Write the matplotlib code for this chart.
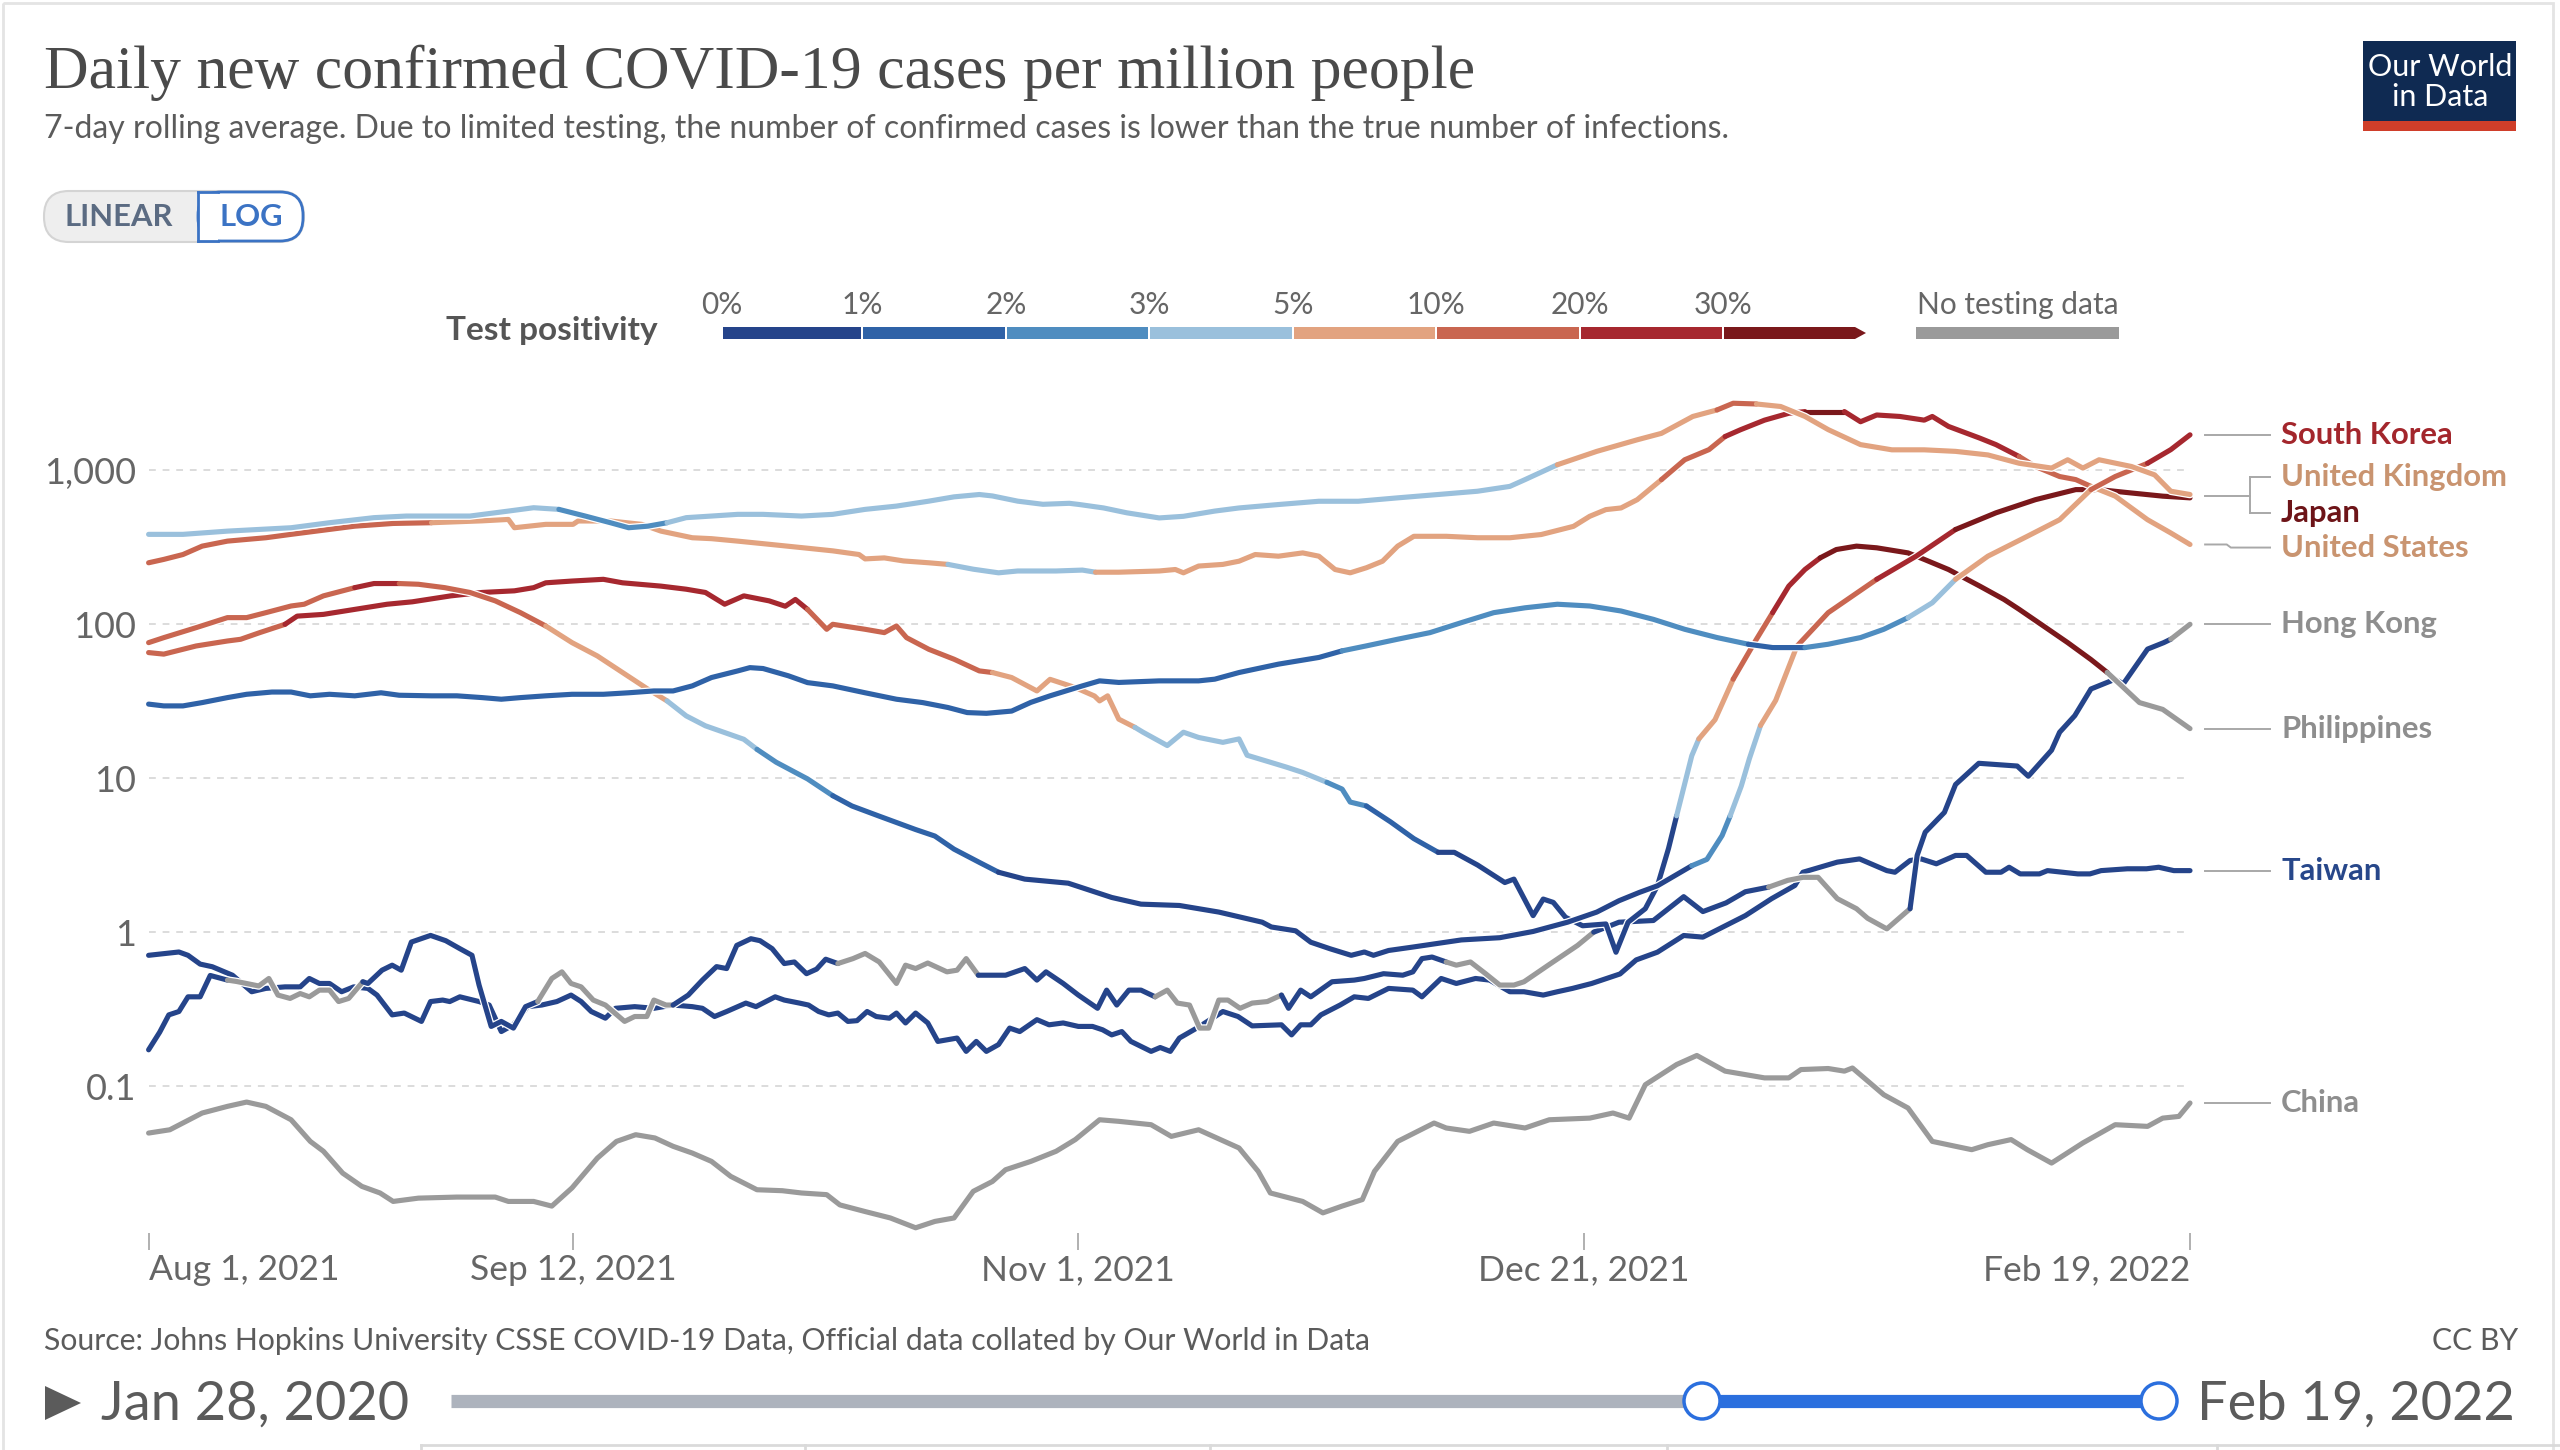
import matplotlib
matplotlib.use("Agg")
import matplotlib.pyplot as plt
import matplotlib.dates as mdates
import matplotlib.transforms as mtransforms
from matplotlib.patches import FancyBboxPatch, Rectangle, Polygon, Circle
from matplotlib.ticker import NullLocator
from datetime import datetime
import numpy as np

plt.rcParams['font.family'] = ['Lato', 'DejaVu Sans']

# days counted from Aug 1, 2021 ; values = daily new cases per million (7-day avg)
start_date = datetime(2021, 8, 1)

sk_days = [0, 1.5, 3.4, 5.3, 7.8, 9.7, 12.2, 14.1, 16, 17.9, 20.4, 23, 24.8, 28, 30.5, 33, 34.9, 36.8,
           39.3, 41.9, 45, 47.5, 50, 51.9, 53.8, 55.7, 58.3, 59.5, 60.8, 63.3, 65.2, 67.7, 70.9, 74,
           76.6, 79.1, 81, 82.9, 85.4, 87.3, 89.2, 92.4, 94.1, 96, 100, 103.9, 105.5, 107.9, 111.8,
           115.8, 118.1, 120.5, 123.6, 126.8, 129.9, 133.1, 136.2, 139.4, 142.6, 145.7, 148.9, 152,
           155.2, 158.3, 160.7, 163.9, 166.2, 169.4, 171.7, 174.1, 176.5, 178.8, 182, 185.9, 189.1,
           192.2, 194.6, 197.8, 200.1, 202]
sk_vals = [30.3, 29.5, 29.5, 31, 33.4, 35.1, 36.3, 36.3, 34.3, 35.1, 34.3, 35.9, 34.6, 34.3, 34.3, 33.4,
           32.6, 33.4, 34.3, 35.1, 35.1, 35.9, 36.9, 36.9, 39.8, 45.1, 49.8, 52.3, 51.6, 46.3, 41.8,
           39.8, 35.9, 32.6, 31.0, 28.8, 26.7, 26.4, 27.3, 31.1, 34.3, 39.8, 42.9, 41.9, 42.9, 42.9,
           44, 48.6, 55.1, 60.9, 67.2, 72.4, 80, 88.3, 102.5, 119, 128, 135, 131.5, 122, 107.7, 92.8,
           82, 74.2, 70.6, 70.6, 74.2, 82, 92.8, 110.5, 138, 196, 277, 373, 478, 750, 912, 1112, 1364,
           1702]

uk_days = [0, 3.4, 7.8, 14.1, 17.9, 22.3, 25.5, 28, 31.8, 35.6, 38.1, 40.6, 43.2, 45.7, 47.5, 49.4,
           51.3, 53.2, 55.7, 58.3, 60.8, 64.6, 67.7, 70.9, 74, 77.2, 79.7, 82.2, 83.5, 86, 88.5, 91.1,
           92.1, 94.5, 96.8, 100, 102.4, 105.5, 107.9, 111.8, 115.8, 119.7, 123.6, 127.6, 131.5,
           134.7, 136.2, 139.4, 143.3, 147.3, 149.7, 152.8, 155.2, 156.8, 159.1, 161.5, 163.9, 166.2,
           169.4, 172.5, 175.7, 178.8, 182, 185.1, 188.3, 189.9, 191.4, 193, 196.2, 198.5, 200.1, 202]
uk_vals = [384, 384, 403, 424, 457, 493, 505, 505, 505, 544, 572, 558, 505, 457, 424, 434, 457, 493,
           505, 518, 518, 505, 518, 558, 586, 631, 673, 697, 682, 631, 602, 611, 600, 570, 530, 491,
           503, 544, 570, 600, 630, 630, 663, 697, 732, 787, 871, 1088, 1329, 1580, 1740, 2240, 2470,
           2730, 2700, 2600, 2240, 1840, 1470, 1360, 1360, 1329, 1260, 1112, 1035, 1172, 1035, 1172,
           1060, 935, 732, 697]

us_days = [0, 1.5, 3.4, 5.3, 7.8, 9.7, 11.6, 14.1, 20.4, 24.2, 28, 33, 35.6, 36.2, 39.3, 42, 42.5,
           45.7, 48.8, 50.7, 53.8, 55.7, 58.3, 61.4, 64.6, 67.7, 70.3, 70.9, 72.8, 74.7, 77.2, 79.1,
           81.6, 84.1, 86, 89.8, 92.4, 93.7, 96, 100, 101.6, 102.4, 103.9, 106.3, 107.9, 109.5, 111.8,
           114.2, 115.8, 117.4, 118.9, 120.5, 122.1, 123.6, 125.2, 128.4, 131.5, 134.7, 137.8, 141,
           142.6, 144.2, 145.7, 147.3, 149.7, 152, 154.4, 156, 157.5, 159.9, 162.3, 163.9, 167.8,
           169.4, 171, 173.3, 175.7, 176.5, 178.1, 181.2, 182.8, 185.1, 186.7, 189.1, 190.7, 192.2,
           194.6, 196.2, 197.8, 200.1, 202]
us_vals = [251, 264, 284, 322, 347, 356, 365, 384, 434, 452, 457, 470, 480, 424, 446, 446, 469, 469,
           446, 403, 365, 360, 347, 331, 315, 300, 284, 266, 270, 258, 251, 245, 228, 216, 222, 222,
           225, 218, 218, 222, 227, 216, 239, 245, 257, 284, 277, 291, 277, 227, 216, 233, 257, 322,
           373, 373, 365, 365, 383, 433, 503, 556, 570, 645, 871, 1172, 1364, 1660, 1834, 2120, 2350,
           2410, 2410, 2070, 2290, 2240, 2120, 2240, 1930, 1620, 1470, 1230, 1060, 912, 871, 787, 680,
           570, 478, 392, 330]

jp_days = [0, 1.5, 4.7, 7.8, 9.7, 11.6, 14.1, 15.4, 17.3, 20.4, 22.3, 24.8, 26.7, 29.3, 31.8, 34.3,
           36.8, 39.3, 41.9, 44.4, 46.9, 49.4, 51.3, 53.2, 55.1, 57, 58.9, 60.2, 62.1, 64, 65.2, 67.7,
           69.6, 72.2, 75.9, 77.8, 79.7, 82.2, 84.1, 86.7, 91, 95.3, 98.2, 102, 105.9, 110.2, 111.1,
           113.5, 115, 116.9, 119, 120.3, 121.2, 122.7, 125.1, 129.9, 133.7, 137, 140.4, 143.3, 145.5,
           147.5, 149.3, 152.7, 154.2, 155.7, 156.5, 157.6, 158.4, 159.5, 161, 163.1, 166.2, 171,
           174.9, 178.8, 182.8, 186.7, 190.7, 193, 196.2, 199.3, 202]
jp_vals = [76, 81.9, 95.1, 110.5, 110.5, 119, 131.5, 135, 153, 173, 184, 184, 182, 173, 161, 142, 119,
           97.5, 76, 62.3, 48.6, 37.9, 31.8, 25.4, 21.9, 19.8, 17.9, 15.4, 12.7, 10.9, 9.9, 7.7, 6.6,
           5.7, 4.64, 4.21, 3.46, 2.84, 2.45, 2.21, 2.08, 1.68, 1.52, 1.49, 1.35, 1.16, 1.08, 1.02,
           0.86, 0.78, 0.707, 0.743, 0.707, 0.76, 0.80, 0.89, 0.92, 1.01, 1.16, 1.35, 1.6, 1.81, 2.0,
           2.7, 2.97, 4.24, 5.7, 8.9, 13.4, 22, 32, 72, 119, 196, 277, 413, 530, 645, 750, 750, 713,
           680, 663]

ph_days = [0, 1.5, 4.7, 7.8, 9.1, 11, 13.5, 14.7, 17.3, 20.4, 23.6, 26.1, 29.9, 33, 36.2, 38.1, 39.3,
           41.9, 45, 46.9, 50.7, 53.2, 55.1, 57, 58.9, 61.4, 63, 64, 65.2, 67.1, 67.7, 70.9, 72.8, 74,
           75, 77.2, 79.7, 82.2, 83.5, 85.4, 87.9, 89.2, 91.7, 93.6, 94.1, 94.9, 96, 97.6, 98.4, 100.8,
           102.4, 103.9, 106.3, 107.9, 108.7, 111, 112.6, 114.2, 116.6, 118.1, 118.9, 120.5, 122.9,
           125.2, 127.6, 129.2, 131.5, 134.2, 135.1, 137, 138, 139, 140.2, 141.9, 144.2, 145.2, 146.4,
           148.1, 149.3, 150.4, 151.2, 152.7, 153.4, 155, 156.8, 159.1, 160.7, 162.3, 163.9, 165.4,
           167, 169, 171, 174.1, 175.7, 178.1, 181.2, 183.6, 185.1, 187.5, 189.9, 192.2, 193.8, 195.4,
           197, 199.3, 202]
ph_vals = [65.5, 64, 72.3, 77.9, 79.9, 88.3, 100, 113, 116, 125, 135, 140, 153, 161, 165, 173, 186,
           191, 196, 186, 177, 169, 161, 135, 153, 142, 131, 145, 125, 92.8, 100, 92.8, 88.3, 97.5,
           81.9, 68.8, 59.3, 49.8, 48.6, 45.1, 36.9, 43.9, 38.8, 34.2, 31.8, 34.3, 24.2, 21.4, 19.9,
           16.3, 19.9, 18.4, 17.1, 18.0, 14.1, 12.7, 11.8, 10.9, 9.4, 8.5, 7.0, 6.6, 5.2, 4.05, 3.30,
           3.30, 2.73, 2.10, 2.21, 1.28, 1.64, 1.56, 1.25, 1.10, 1.13, 0.74, 1.16, 1.42, 2.0, 3.5, 5.7,
           14, 18, 24, 44, 80, 119, 177, 227, 270, 306, 322, 314, 291, 264, 227, 177, 145, 125, 97.5,
           76, 59, 48.7, 38.9, 31, 28, 21]

hk_days = [0, 1.1, 2, 3, 3.9, 5.1, 6.1, 7.8, 8.7, 10.9, 11.9, 12.8, 14, 15, 15.9, 16.9, 17.9, 18.8,
           19.8, 21.2, 21.7, 23.1, 24.1, 25, 26, 27.9, 29.4, 30.8, 32, 32.7, 33.9, 34.9, 36.1, 37.3,
           38.5, 39.9, 40.9, 41.8, 42.8, 44, 45.2, 47.1, 48.1, 49.3, 50, 51.2, 51.9, 53.4, 54.8, 56.2,
           57.2, 58.2, 59.6, 60.5, 61.7, 62.9, 63.9, 65.1, 66.1, 67, 68.2, 69.7, 70.9, 72.3, 74, 74.9,
           75.9, 77.1, 79, 80, 80.9, 82.1, 84.8, 86.7, 87.9, 88.8, 90.5, 92, 93.9, 94.8, 95.8, 97,
           98.2, 99.6, 100.8, 101.8, 103, 104, 104.9, 105.9, 106.8, 108, 109.2, 110.7, 112.1, 112.8,
           114, 115, 117.1, 119.3, 120.3, 122.2, 124.1, 125.1, 126, 127, 128.4, 129.4, 130.8, 132.3,
           133.7, 135.1, 136.1, 138.5, 141.4, 143, 145.5, 148.9, 151.9, 153.8, 156.1, 158, 160.3,
           162.2, 163.7, 165.2, 167.1, 169, 170.1, 172, 174.3, 175, 175.8, 177.7, 178.8, 181.1, 184.9,
           186, 188.3, 189.1, 190.6, 192.2, 194.6, 195.4, 197.8, 199.4, 200.1, 202]
hk_vals = [0.172, 0.224, 0.29, 0.305, 0.38, 0.38, 0.523, 0.488, 0.478, 0.447, 0.5, 0.39, 0.371, 0.399,
           0.38, 0.42, 0.42, 0.354, 0.371, 0.476, 0.464, 0.566, 0.61, 0.566, 0.862, 0.952, 0.88, 0.781,
           0.707, 0.453, 0.244, 0.263, 0.238, 0.328, 0.354, 0.5, 0.552, 0.464, 0.441, 0.362, 0.336,
           0.263, 0.283, 0.283, 0.362, 0.336, 0.336, 0.39, 0.488, 0.597, 0.58, 0.82, 0.906, 0.88,
           0.781, 0.625, 0.64, 0.537, 0.575, 0.667, 0.625, 0.673, 0.727, 0.64, 0.464, 0.61, 0.58, 0.63,
           0.552, 0.566, 0.673, 0.525, 0.525, 0.58, 0.488, 0.552, 0.464, 0.39, 0.32, 0.42, 0.336,
           0.42, 0.42, 0.38, 0.42, 0.346, 0.336, 0.238, 0.238, 0.362, 0.362, 0.32, 0.346, 0.354, 0.39,
           0.32, 0.42, 0.38, 0.476, 0.488, 0.5, 0.537, 0.525, 0.552, 0.673, 0.689, 0.64, 0.61, 0.64,
           0.537, 0.453, 0.453, 0.476, 0.61, 0.82, 1.0, 1.16, 1.19, 1.7, 1.36, 1.55, 1.83, 1.96, 2.17,
           2.27, 2.27, 1.65, 1.42, 1.23, 1.05, 1.42, 3.15, 4.46, 6.0, 9.1, 12.5, 12.0, 10.3, 15.2,
           19.9, 25.5, 38, 44, 41, 69, 76, 80, 100]

tw_days = [0, 3, 3.9, 5.1, 6.3, 8.3, 10.2, 11.6, 13.5, 15, 15.9, 16.9, 17.9, 19.1, 20.3, 21.7, 22.6,
           24.1, 25.3, 27, 27.9, 29.1, 29.8, 30.8, 32.7, 33.7, 34.9, 36.1, 37.5, 38.9, 40.4, 41.8,
           42.8, 43.8, 45.2, 46.2, 48.1, 50, 51.9, 53.8, 54.8, 56, 57.2, 59.1, 60.1, 62, 62.9, 64.4,
           65.3, 66.3, 67.3, 68.2, 69.2, 70.1, 71.1, 72, 73.3, 74, 74.9, 75.9, 77.1, 78.1, 80, 80.9,
           81.9, 82.9, 84.1, 85.2, 86.2, 87.9, 89.1, 90.5, 92, 93.4, 94.4, 95.3, 96.3, 97.2, 99.2,
           100.1, 101.1, 102, 104, 106.3, 107.8, 109.2, 112.1, 113.1, 114, 115, 116, 117.9, 119.3,
           120.7, 122.7, 125.1, 126, 127.9, 129.4, 131.3, 132.7, 134.7, 136.1, 138, 139.4, 140.9,
           142.8, 145.6, 147.2, 149.3, 151.9, 153.8, 158, 160.6, 162.9, 163.7, 167.1, 169.3, 172,
           172.8, 174.3, 175.4, 176.9, 178.8, 179.9, 181.8, 183.3, 184.1, 185.2, 187.1, 187.9, 190.9,
           192.1, 193.2, 195.8, 197.7, 198.9, 200.4, 202]
tw_vals = [0.707, 0.743, 0.707, 0.62, 0.596, 0.525, 0.41, 0.431, 0.441, 0.441, 0.5, 0.464, 0.464, 0.41,
           0.441, 0.431, 0.39, 0.29, 0.298, 0.263, 0.354, 0.362, 0.354, 0.38, 0.354, 0.336, 0.226,
           0.25, 0.328, 0.336, 0.354, 0.39, 0.354, 0.305, 0.276, 0.32, 0.328, 0.32, 0.336, 0.328,
           0.32, 0.283, 0.305, 0.346, 0.328, 0.38, 0.362, 0.346, 0.336, 0.305, 0.29, 0.298, 0.263,
           0.266, 0.305, 0.283, 0.276, 0.298, 0.257, 0.298, 0.257, 0.195, 0.205, 0.168, 0.195, 0.168,
           0.186, 0.238, 0.226, 0.27, 0.25, 0.257, 0.244, 0.244, 0.232, 0.215, 0.226, 0.195, 0.168,
           0.178, 0.168, 0.205, 0.244, 0.305, 0.283, 0.246, 0.25, 0.215, 0.25, 0.25, 0.29, 0.336,
           0.38, 0.371, 0.431, 0.42, 0.38, 0.5, 0.464, 0.5, 0.488, 0.41, 0.41, 0.39, 0.41, 0.431,
           0.464, 0.535, 0.66, 0.741, 0.951, 0.928, 1.28, 1.65, 2.01, 2.45, 2.85, 2.99, 2.51, 2.45,
           2.92, 2.99, 2.78, 3.15, 3.15, 2.45, 2.45, 2.64, 2.39, 2.39, 2.51, 2.39, 2.39, 2.51, 2.58,
           2.58, 2.64, 2.51, 2.51]

cn_days = [0, 2.1, 5.3, 7.8, 9.7, 11.6, 14.1, 16, 17.3, 19.2, 21.1, 22.9, 24.2, 26.7, 30.5, 34.3,
           35.6, 38.1, 39.9, 41.9, 44.4, 46.3, 48.2, 50.1, 51.9, 53.8, 55.7, 57.6, 60.2, 62.7, 64.6,
           67.1, 68.4, 70.9, 73.4, 75.9, 77.8, 79.7, 81.6, 83.5, 84.8, 87.3, 89.8, 91.7, 94.1, 96,
           99.2, 101.2, 103.9, 107.9, 109.8, 111, 114.2, 116.2, 118.1, 120.1, 121.3, 123.6, 127.2,
           128.4, 130.7, 133.1, 136.2, 138.6, 142.6, 144.9, 146.5, 148.1, 151.2, 153.2, 156, 159.9,
           162.3, 163.5, 166.2, 167.8, 168.6, 171.7, 174.1, 176.5, 178.8, 180.4, 182, 184.3, 185.9,
           188.3, 191.4, 194.6, 197.8, 199.3, 200.9, 202]
cn_vals = [0.0495, 0.052, 0.0668, 0.0738, 0.0787, 0.0738, 0.0604, 0.0437, 0.0377, 0.0272, 0.0223,
           0.0202, 0.0178, 0.0187, 0.019, 0.019, 0.0178, 0.0178, 0.0166, 0.0218, 0.034, 0.0437, 0.0483,
           0.046, 0.0406, 0.0367, 0.0324, 0.0259, 0.0212, 0.0209, 0.0202, 0.0197, 0.0169, 0.0153,
           0.0139, 0.012, 0.0132, 0.0139, 0.0207, 0.024, 0.0286, 0.0324, 0.0377, 0.0449, 0.0604, 0.059,
           0.0561, 0.0471, 0.052, 0.0396, 0.0279, 0.0202, 0.0178, 0.015, 0.0166, 0.0183, 0.0279, 0.0437,
           0.0575, 0.0534, 0.0508, 0.0575, 0.0534, 0.0604, 0.0619, 0.0668, 0.0619, 0.102, 0.138, 0.158,
           0.125, 0.113, 0.113, 0.128, 0.13, 0.125, 0.131, 0.0878, 0.072, 0.0437, 0.0406, 0.0386,
           0.0416, 0.0449, 0.0386, 0.0316, 0.0427, 0.0561, 0.0547, 0.0619, 0.0635, 0.0776]

# test positivity class per stretch: (from day, class)  0..7 = bins, 8 = no testing data
sk_pos = [(0, 1), (117.4, 2), (159.1, 1), (163.9, 2), (173.3, 3), (179.6, 4), (191.4, 5), (197.8, 6)]
uk_pos = [(0, 3), (40.6, 2), (51.3, 3), (138.6, 4), (155.2, 5), (159.1, 4)]
us_pos = [(0, 5), (28, 4), (79.1, 3), (93.7, 4), (149.7, 5), (156, 6), (163.9, 7), (167.8, 6),
          (185.1, 5), (192.2, 4)]
jp_pos = [(0, 5), (20.4, 6), (24.8, 5), (39.3, 4), (51.3, 3), (60.2, 2), (67.7, 1), (84.1, 0),
          (152.7, 2), (156.5, 3), (159.5, 4), (163.1, 5), (171, 6), (178, 7)]
ph_pos = [(0, 5), (13.5, 6), (65.2, 5), (83.5, 4), (97.6, 3), (115.8, 2), (121.3, 1), (127.6, 0),
          (151.2, 3), (153.4, 4), (156.8, 5), (160.7, 6), (165.4, 7), (193.8, 8)]
hk_pos = [(0, 0), (7.8, 8), (21.2, 0), (38.5, 8), (51.9, 0), (68.2, 8), (82.1, 0), (99.6, 8),
          (112.1, 0), (128.4, 8), (143, 0), (160.3, 8), (174.3, 0), (200.1, 8)]
tw_pos = [(0, 0)]
cn_pos = [(0, 8)]

bin_colors = ['#25448a', '#2f62a7', '#4f8dc0', '#9ac0dc', '#e2a380', '#c96650', '#a6282f', '#7a181b',
              '#9a9a9a']
bin_labels = ['0%', '1%', '2%', '3%', '5%', '10%', '20%', '30%']

countries = ['China', 'Taiwan', 'Hong Kong', 'Philippines', 'Japan', 'United States', 'South Korea',
             'United Kingdom']
series = {
    'China': (cn_days, cn_vals, cn_pos),
    'Taiwan': (tw_days, tw_vals, tw_pos),
    'Hong Kong': (hk_days, hk_vals, hk_pos),
    'Philippines': (ph_days, ph_vals, ph_pos),
    'Japan': (jp_days, jp_vals, jp_pos),
    'United States': (us_days, us_vals, us_pos),
    'South Korea': (sk_days, sk_vals, sk_pos),
    'United Kingdom': (uk_days, uk_vals, uk_pos),
}
label_colors = {'South Korea': '#a3262c', 'United Kingdom': '#c99470', 'Japan': '#6d1418',
                'United States': '#c99470', 'Hong Kong': '#8e8e8e', 'Philippines': '#8e8e8e',
                'Taiwan': '#27478a', 'China': '#8e8e8e'}
# small vertical nudge of the end labels (in decades) so they do not overlap
label_shift = {'United Kingdom': 0.115, 'Japan': -0.10, 'United States': -0.02}

tick_dates = [datetime(2021, 8, 1), datetime(2021, 9, 12), datetime(2021, 11, 1),
              datetime(2021, 12, 21), datetime(2022, 2, 19)]
tick_names = ['Aug 1, 2021', 'Sep 12, 2021', 'Nov 1, 2021', 'Dec 21, 2021', 'Feb 19, 2022']

W, H = 2560, 1450
fig = plt.figure(figsize=(W / 100, H / 100), dpi=100)
fig.patch.set_facecolor('white')

# pixel-space helper axes for all the page furniture
deco = fig.add_axes([0, 0, 1, 1], zorder=0)
deco.set_xlim(0, W)
deco.set_ylim(H, 0)
deco.axis('off')

ax = fig.add_axes([148.6 / W, 1 - 1233 / H, (2190 - 148.6) / W, (1233 - 392) / H], zorder=2)
ax.patch.set_alpha(0)

x0 = mdates.date2num(start_date)
LW = 3.7

for z, name in enumerate(countries):
    d, v, pos = series[name]
    d = np.asarray(d, float)
    v = np.asarray(v, float)
    x = x0 + d
    ax.plot(x, v, color='white', lw=LW + 1.8, zorder=3 + 2 * z, solid_capstyle='round',
            solid_joinstyle='round', clip_on=False)
    starts = np.array([p[0] for p in pos])
    cls = [p[1] for p in pos]
    mids = (d[:-1] + d[1:]) / 2
    seg_cls = [cls[np.searchsorted(starts, m, side='right') - 1] for m in mids]
    i = 0
    while i < len(seg_cls):
        j = i
        while j + 1 < len(seg_cls) and seg_cls[j + 1] == seg_cls[i]:
            j += 1
        ax.plot(x[i:j + 2], v[i:j + 2], color=bin_colors[seg_cls[i]], lw=LW, zorder=4 + 2 * z,
                solid_capstyle='round', solid_joinstyle='round', clip_on=False)
        i = j + 1

ax.set_yscale('log')
ax.set_ylim(0.0111, 3230)
ax.set_xlim(x0, mdates.date2num(tick_dates[-1]))
ax.set_yticks([0.1, 1, 10, 100, 1000])
ax.set_yticklabels(['0.1', '1', '10', '100', '1,000'])
ax.yaxis.set_minor_locator(NullLocator())
ax.grid(axis='y', color='#dcdcdc', lw=1.4, ls=(0, (3.5, 3.5)))
ax.set_axisbelow(True)
ax.set_xticks([mdates.date2num(t) for t in tick_dates])
ax.set_xticklabels(tick_names)
ax.tick_params(axis='y', length=0, pad=9, labelsize=26, labelcolor='#666666')
ax.tick_params(axis='x', length=12, width=1.3, color='#aaaaaa', pad=3, labelsize=25.5,
               labelcolor='#666666')
xl = ax.get_xticklabels()
xl[0].set_ha('left')
xl[-1].set_ha('right')
for s in ax.spines.values():
    s.set_visible(False)

# end labels with connector lines
blend = mtransforms.blended_transform_factory(ax.transAxes, ax.transData)
for name in countries:
    d, v, pos = series[name]
    end_v = v[-1]
    lab_v = end_v * 10 ** label_shift.get(name, 0)
    ax.text(1.0446, lab_v, name, transform=blend, ha='left', va='center', fontsize=22.3,
            fontweight='bold', color=label_colors[name])
    if name in ('United Kingdom', 'Japan'):
        ax.plot([1.0295, 1.0392], [lab_v, lab_v], transform=blend, color='#a8a8a8', lw=1.4,
                clip_on=False)
    elif name == 'United States':
        ax.plot([1.0074, 1.0180, 1.0200, 1.0392], [end_v, end_v, lab_v, lab_v], transform=blend,
                color='#a8a8a8', lw=1.4, clip_on=False)
    else:
        ax.plot([1.0074, 1.0392], [end_v, end_v], transform=blend, color='#a8a8a8', lw=1.4,
                clip_on=False)
uk_lab = uk_vals[-1] * 10 ** label_shift['United Kingdom']
jp_lab = jp_vals[-1] * 10 ** label_shift['Japan']
mid_end = np.sqrt(uk_vals[-1] * jp_vals[-1])
ax.plot([1.0074, 1.0295], [mid_end, mid_end], transform=blend, color='#a8a8a8', lw=1.4, clip_on=False)
ax.plot([1.0295, 1.0295], [uk_lab, jp_lab], transform=blend, color='#a8a8a8', lw=1.4, clip_on=False)

# frame
deco.add_patch(Rectangle((3, 3), W - 10, H + 10, fill=False, ec='#e4e4e4', lw=2))

# title + subtitle
deco.text(44, 73, 'Daily new confirmed COVID-19 cases per million people', family='Liberation Serif',
          fontsize=44.5, color='#4a4a4a', va='center', ha='left')
deco.text(44, 129, '7-day rolling average. Due to limited testing, the number of confirmed cases is '
          'lower than the true number of infections.', fontsize=23, color='#5b5b5b', va='center',
          ha='left')

# logo
deco.add_patch(Rectangle((2363, 41), 153, 80, fc='#0f2a52', ec='none'))
deco.add_patch(Rectangle((2363, 121), 153, 10, fc='#cf3e2a', ec='none'))
deco.text(2440, 82, 'Our World\nin Data', color='white', fontsize=22, ha='center', va='center',
          linespacing=1.12)

# linear / log toggle
deco.add_patch(FancyBboxPatch((44, 191), 260, 51, boxstyle='round,pad=0,rounding_size=25',
                              fc='#eeeeee', ec='#d4d4d4', lw=1.5))
deco.add_patch(FancyBboxPatch((198, 192), 105, 49, boxstyle='round,pad=0,rounding_size=23',
                              fc='white', ec='#3b73c4', lw=2))
deco.add_patch(Rectangle((198, 192), 20, 49, fc='white', ec='none'))
deco.plot([198, 198], [192, 241], color='#3b73c4', lw=2)
deco.plot([198, 218], [192, 192], color='#3b73c4', lw=2)
deco.plot([198, 218], [241, 241], color='#3b73c4', lw=2)
deco.text(119, 217, 'LINEAR', fontsize=22.3, fontweight='bold', color='#5b6b82', ha='center',
          va='center')
deco.text(251, 217, 'LOG', fontsize=22.3, fontweight='bold', color='#3b73c4', ha='center', va='center')

# positivity legend
deco.text(658, 330, 'Test positivity', fontsize=24, fontweight='bold', color='#555555', ha='right',
          va='center')
edges = [722, 862, 1006, 1149, 1293, 1436, 1580, 1723, 1867]
for k in range(8):
    a, b = edges[k] + 1, edges[k + 1] - 1
    if k < 7:
        deco.add_patch(Rectangle((a, 327), b - a, 12, fc=bin_colors[k], ec='none'))
    else:
        deco.add_patch(Polygon([(a, 327), (b - 11, 327), (b, 333), (b - 11, 339), (a, 339)],
                               closed=True, fc=bin_colors[k], ec='none'))
    deco.text(edges[k], 305, bin_labels[k], fontsize=21.5, color='#666666', ha='center', va='center')
deco.add_patch(Rectangle((1916, 327), 203, 12, fc=bin_colors[8], ec='none'))
deco.text(2018, 305, 'No testing data', fontsize=21.5, color='#666666', ha='center', va='center')

# source
deco.text(44, 1341, 'Source: Johns Hopkins University CSSE COVID-19 Data, Official data collated by '
          'Our World in Data', fontsize=21.7, color='#5b5b5b', ha='left', va='center')
deco.text(2518, 1341, 'CC BY', fontsize=21.7, color='#5b5b5b', ha='right', va='center')

# timeline
deco.add_patch(Polygon([(45, 1386), (81, 1403), (45, 1420)], closed=True, fc='#5b5b5b', ec='none'))
deco.text(101, 1404, 'Jan 28, 2020', fontsize=39, color='#5b5b5b', ha='left', va='center')
deco.text(2515, 1404, 'Feb 19, 2022', fontsize=39, color='#5b5b5b', ha='right', va='center')
deco.plot([451, 1702], [1401, 1401], color='#adb3bd', lw=9.5, solid_capstyle='butt')
deco.plot([1702, 2159], [1401, 1401], color='#2b6fde', lw=9.5, solid_capstyle='butt')
for cx in (1702, 2159):
    deco.add_patch(Circle((cx, 1401), 18, fc='white', ec='#2b6fde', lw=2.5, zorder=5))

# cut-off tab strip at the very bottom
deco.plot([421, W], [1445, 1445], color='#dadada', lw=2)
for tx in (421, 805, 1210, 1667, 2217):
    deco.plot([tx, tx], [1445, H], color='#dadada', lw=2)

fig.savefig('out.png', dpi=100, facecolor='white')
